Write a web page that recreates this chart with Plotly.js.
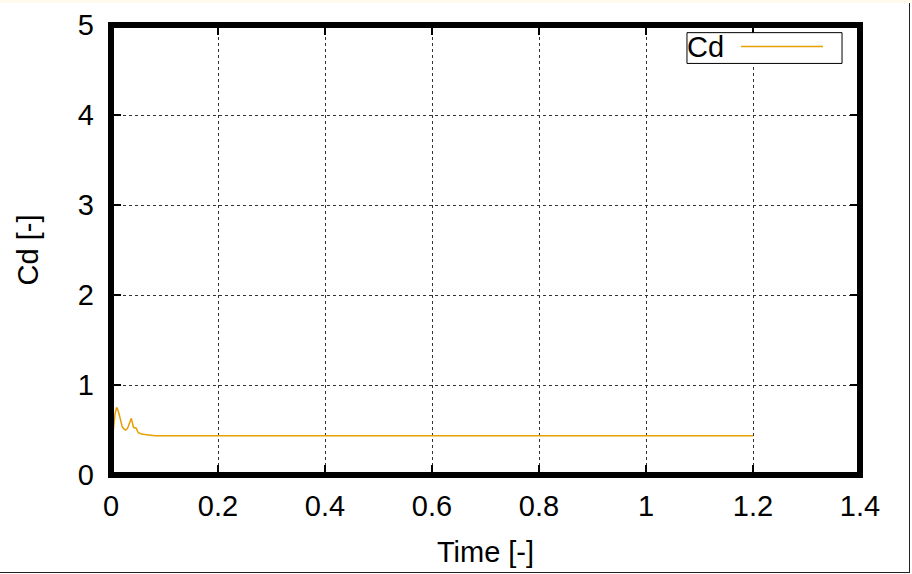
<!DOCTYPE html>
<html>
<head>
<meta charset="utf-8">
<script src="https://cdn.plot.ly/plotly-3.0.1.min.js"></script>
<style>
  html, body { margin: 0; padding: 0; background: #ffffff; }
  #wrap { position: relative; width: 912px; height: 574px; overflow: hidden; }
  #chart { width: 912px; height: 574px; }
  #topband { position: absolute; left: 0; top: 0; width: 912px; height: 3px; background: #fffaeb; }
  #rborder { position: absolute; left: 909px; top: 3px; width: 1px; height: 570px; background: #222; }
  #bborder { position: absolute; left: 0; top: 572px; width: 910px; height: 1px; background: #222; }
</style>
</head>
<body>
<div id="wrap">
  <div id="chart"></div>
  <div id="topband"></div>
  <div id="rborder"></div>
  <div id="bborder"></div>
</div>
<script>
// Data
const seriesName = "Cd";
const time = [0.002, 0.005, 0.0075, 0.0105, 0.0125, 0.015, 0.017, 0.021, 0.0245, 0.0275, 0.031, 0.0345, 0.038, 0.042, 0.045, 0.047, 0.051, 0.057, 0.063, 0.070, 0.076, 0.082, 0.09, 0.1, 0.2, 0.3, 0.4, 0.5, 0.6, 0.7, 0.8, 0.9, 1.0, 1.1, 1.2];
const cd   = [0.36, 0.52, 0.68, 0.75, 0.73, 0.68, 0.63, 0.535, 0.51, 0.50, 0.52, 0.58, 0.63, 0.53, 0.52, 0.52, 0.47, 0.455, 0.45, 0.443, 0.44, 0.436, 0.435, 0.435, 0.435, 0.435, 0.435, 0.435, 0.435, 0.435, 0.435, 0.435, 0.435, 0.435, 0.435];
const xTicks = [0, 0.2, 0.4, 0.6, 0.8, 1, 1.2, 1.4];
const yTicks = [0, 1, 2, 3, 4, 5];
const xTitle = "Time [-]";
const yTitle = "Cd [-]";

const lineColor = "#e69f00";
const font = { family: "Liberation Sans, Arial, sans-serif", size: 29, color: "#000" };

const trace = {
  x: time, y: cd, type: "scatter", mode: "lines", name: seriesName,
  line: { color: lineColor, width: 1.5 },
  showlegend: false, hoverinfo: "skip"
};

const axisCommon = {
  showline: false, zeroline: false, showgrid: true,
  gridcolor: "#333", griddash: "dot", gridwidth: 1,
  ticks: "inside", ticklen: 10, tickwidth: 2, tickcolor: "#000",
  mirror: "ticks", tickfont: font, automargin: false
};

const layout = {
  width: 912, height: 574,
  margin: { l: 111, r: 52, t: 24.5, b: 99 },
  paper_bgcolor: "#ffffff", plot_bgcolor: "#ffffff",
  font: font,
  xaxis: Object.assign({}, axisCommon, {
    range: [0, 1.4], tickvals: xTicks, ticktext: xTicks.map(String),
    ticklabelstandoff: 11,
    title: { text: xTitle, font: font, standoff: 20 }
  }),
  yaxis: Object.assign({}, axisCommon, {
    range: [0, 5], tickvals: yTicks, ticktext: yTicks.map(String),
    ticklabelstandoff: 16,
    title: { text: yTitle, font: font, standoff: 30 }
  }),
  shapes: [
    // plot border (gnuplot style frame)
    { type: "rect", xref: "paper", yref: "paper", x0: 0, x1: 1, y0: 0, y1: 1,
      line: { color: "#000", width: 6 }, fillcolor: "rgba(0,0,0,0)", layer: "above" },
    // legend box
    { type: "rect", xref: "paper", yref: "paper", x0: 0.769, x1: 0.976, y0: 0.9146, y1: 0.983,
      line: { color: "#000", width: 1 }, fillcolor: "#ffffff", layer: "above" },
    // legend sample line
    { type: "line", xref: "paper", yref: "paper", x0: 0.841, x1: 0.9506, y0: 0.9523, y1: 0.9523,
      line: { color: lineColor, width: 1.5 }, layer: "above" }
  ],
  annotations: [
    { text: seriesName, xref: "paper", yref: "paper", x: 0.766, y: 0.951,
      xanchor: "left", yanchor: "middle", showarrow: false, font: font }
  ]
};

Plotly.newPlot("chart", [trace], layout, { staticPlot: true, displayModeBar: false });
</script>
</body>
</html>
